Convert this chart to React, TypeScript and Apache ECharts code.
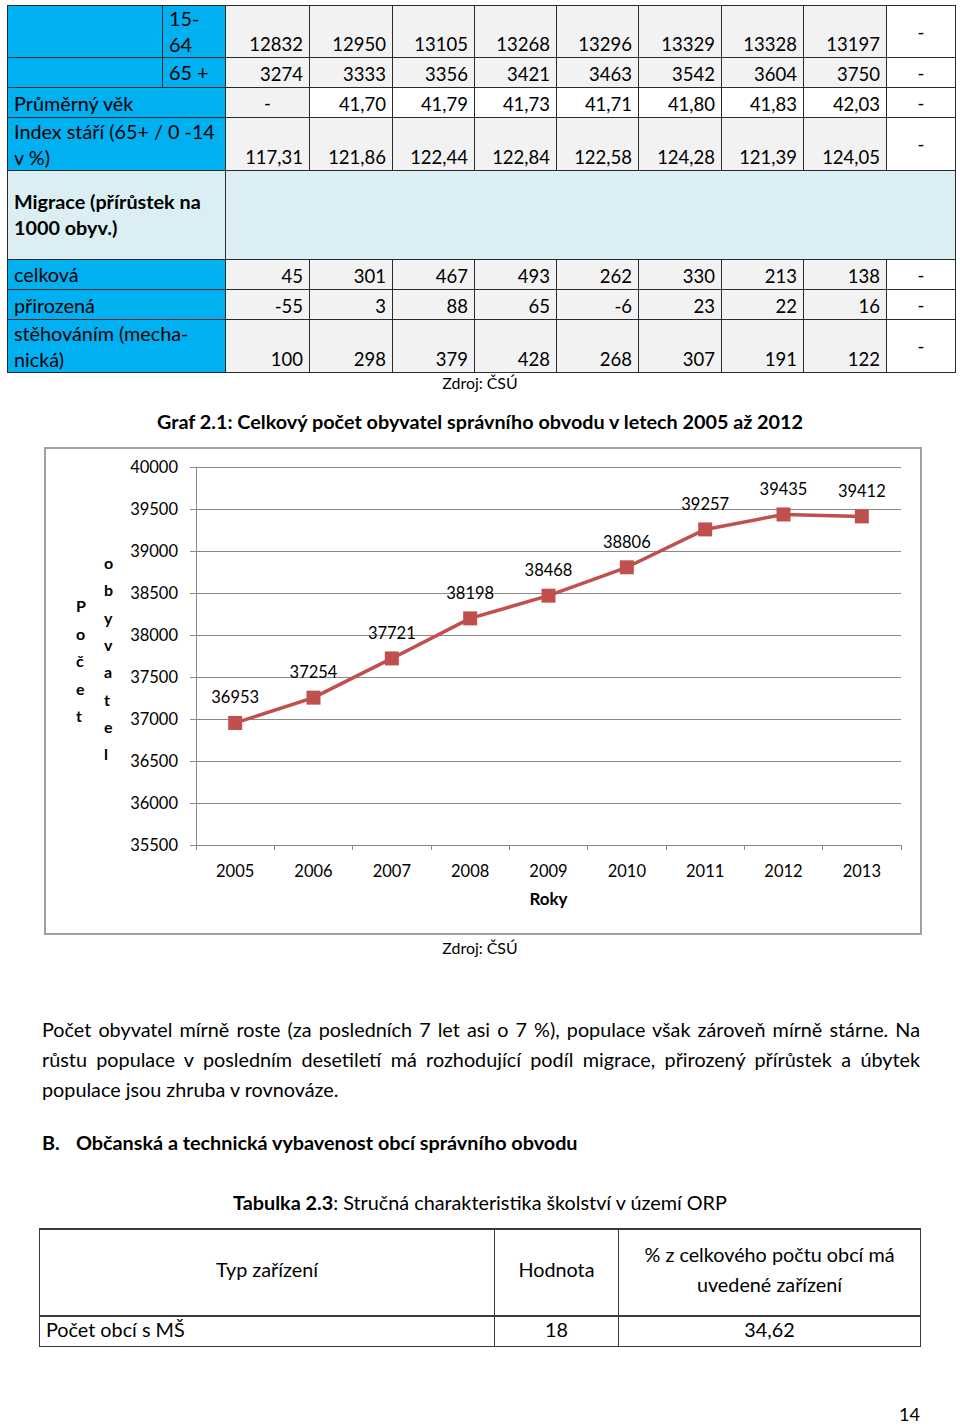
import React, { useEffect, useRef } from "react";
import * as echarts from "echarts";

const FONT = "Lato, 'Noto Sans', 'DejaVu Sans', sans-serif";

// ---- chart data ----
const years = ["2005", "2006", "2007", "2008", "2009", "2010", "2011", "2012", "2013"];
const population = [36953, 37254, 37721, 38198, 38468, 38806, 39257, 39435, 39412];
const chartTitle = "Graf 2.1: Celkový počet obyvatel správního obvodu v letech 2005 až 2012";
const yAxisWord1 = "Počet";
const yAxisWord2 = "obyvatel";
const xAxisName = "Roky";

// ---- table 1 data ----
const row1564 = ["12832", "12950", "13105", "13268", "13296", "13329", "13328", "13197"];
const row65 = ["3274", "3333", "3356", "3421", "3463", "3542", "3604", "3750"];
const prumernyVek = ["-", "41,70", "41,79", "41,73", "41,71", "41,80", "41,83", "42,03"];
const indexStari = ["117,31", "121,86", "122,44", "122,84", "122,58", "124,28", "121,39", "124,05"];
const celkova = ["45", "301", "467", "493", "262", "330", "213", "138"];
const prirozena = ["-55", "3", "88", "65", "-6", "23", "22", "16"];
const stehovanim = ["100", "298", "379", "428", "268", "307", "191", "122"];

// ---- table 2 data ----
const t2Header = ["Typ zařízení", "Hodnota", "% z celkového počtu obcí má uvedené zařízení"];
const t2Row = ["Počet obcí s MŠ", "18", "34,62"];

const paragraphLines = [
  "Počet obyvatel mírně roste (za posledních 7 let asi o 7 %), populace však zároveň mírně stárne. Na",
  "růstu populace v posledním desetiletí má rozhodující podíl migrace, přirozený přírůstek a úbytek",
  "populace jsou zhruba v rovnováze.",
];

const BLUE = "#00B0F0";
const LIGHTBLUE = "#DAEEF3";
const GREY = "#F2F2F2";
const WHITE = "#FFFFFF";

const TXT = 19.8;
const NUM = 18.5;

// layout
const colX = [225, 309, 392, 474, 556, 638, 721, 803, 886, 955];
const rowY = [5, 57, 87, 117, 170, 259, 289, 319, 372];

type CellProps = {
  x1: number; x2: number; y1: number; y2: number;
  bg: string; align?: "left" | "right" | "center";
  valign?: "top" | "middle" | "bottom"; bold?: boolean;
  children?: React.ReactNode; fontSize?: number; lineHeight?: number;
  border?: string; borderTop?: string; padL?: number; padR?: number; padB?: number;
};

function Cell(p: CellProps) {
  const jc = p.valign === "bottom" ? "flex-end" : p.valign === "top" ? "flex-start" : "center";
  return (
    <div
      style={{
        position: "absolute",
        left: p.x1,
        top: p.y1,
        width: p.x2 - p.x1 + 1,
        height: p.y2 - p.y1 + 1,
        boxSizing: "border-box",
        border: p.border ?? "1px solid #2a2a2a",
        borderTop: p.borderTop ?? p.border ?? "1px solid #2a2a2a",
        background: p.bg,
        display: "flex",
        flexDirection: "column",
        justifyContent: jc,
        textAlign: p.align ?? "right",
        paddingLeft: p.padL ?? 6,
        paddingRight: p.padR ?? 6,
        paddingBottom: p.padB ?? 0,
        fontSize: p.fontSize ?? NUM,
        lineHeight: (p.lineHeight ?? 26) + "px",
        fontWeight: p.bold ? 700 : 400,
        color: "#000",
        whiteSpace: "pre-line",
      }}
    >
      {p.children}
    </div>
  );
}

function DataRow({ values, r, bgFirst, bg }: { values: string[]; r: number; bgFirst?: string; bg: string }) {
  return (
    <>
      {values.map((v, i) => (
        <Cell
          key={i}
          x1={colX[i]}
          x2={colX[i + 1]}
          y1={rowY[r]}
          y2={rowY[r + 1]}
          bg={i === 0 && bgFirst ? bgFirst : bg}
          valign={v === "-" ? "middle" : "bottom"}
          align={v === "-" ? "center" : "right"}
        >
          {v}
        </Cell>
      ))}
      <Cell x1={colX[8]} x2={colX[9]} y1={rowY[r]} y2={rowY[r + 1]} bg={WHITE} valign="middle" align="center">
        -
      </Cell>
    </>
  );
}

function Table1() {
  return (
    <>
      <Cell x1={7} x2={162} y1={rowY[0]} y2={rowY[1]} bg={BLUE} />
      <Cell x1={162} x2={225} y1={rowY[0]} y2={rowY[1]} bg={BLUE} align="left" valign="middle" fontSize={TXT} padB={2}>{"15-\n64"}</Cell>
      <DataRow values={row1564} r={0} bg={GREY} />
      <Cell x1={7} x2={162} y1={rowY[1]} y2={rowY[2]} bg={BLUE} />
      <Cell x1={162} x2={225} y1={rowY[1]} y2={rowY[2]} bg={BLUE} align="left" valign="middle" fontSize={TXT} padB={2}>65 +</Cell>
      <DataRow values={row65} r={1} bg={GREY} />
      <Cell x1={7} x2={225} y1={rowY[2]} y2={rowY[3]} bg={BLUE} align="left" valign="middle" fontSize={TXT}>Průměrný věk</Cell>
      <DataRow values={prumernyVek} r={2} bgFirst={GREY} bg={WHITE} />
      <Cell x1={7} x2={225} y1={rowY[3]} y2={rowY[4]} bg={BLUE} align="left" valign="middle" fontSize={TXT}>{"Index stáří (65+ / 0 -14\nv %)"}</Cell>
      <DataRow values={indexStari} r={3} bg={GREY} />
      <Cell x1={7} x2={225} y1={rowY[4]} y2={rowY[5]} bg={LIGHTBLUE} align="left" valign="middle" bold fontSize={TXT} padB={2}>{"Migrace (přírůstek na\n1000 obyv.)"}</Cell>
      <Cell x1={225} x2={955} y1={rowY[4]} y2={rowY[5]} bg={LIGHTBLUE} />
      <Cell x1={7} x2={225} y1={rowY[5]} y2={rowY[6]} bg={BLUE} align="left" valign="middle" fontSize={TXT} padB={2}>celková</Cell>
      <DataRow values={celkova} r={5} bg={GREY} />
      <Cell x1={7} x2={225} y1={rowY[6]} y2={rowY[7]} bg={BLUE} align="left" valign="middle" fontSize={TXT}>přirozená</Cell>
      <DataRow values={prirozena} r={6} bg={GREY} />
      <Cell x1={7} x2={225} y1={rowY[7]} y2={rowY[8]} bg={BLUE} align="left" valign="middle" fontSize={TXT} padB={1}>{"stěhováním (mecha-\nnická)"}</Cell>
      <DataRow values={stehovanim} r={7} bg={GREY} />
    </>
  );
}

function Table2() {
  const xs = [39, 494, 618, 920];
  const ys = [1228, 1315, 1346];
  const b = "1px solid #3a3a3a";
  return (
    <>
      {t2Header.map((t, i) => (
        <Cell key={"h" + i} x1={xs[i]} x2={xs[i + 1]} y1={ys[0]} y2={ys[1]} bg={WHITE} align="center" valign="middle"
          lineHeight={30} border={b} borderTop="2px solid #3a3a3a" padL={16} padR={16} padB={7} fontSize={TXT}>
          {t}
        </Cell>
      ))}
      {t2Row.map((t, i) => (
        <Cell key={"r" + i} x1={xs[i]} x2={xs[i + 1]} y1={ys[1]} y2={ys[2]} bg={WHITE}
          align={i === 0 ? "left" : "center"} valign="middle" border={b} borderTop="2px solid #3a3a3a" padB={5} fontSize={TXT}>
          {t}
        </Cell>
      ))}
    </>
  );
}

function TextAt({ x, y, w, align, children, size, bold, h = 30 }: { x: number; y: number; w: number; align: "left" | "center" | "right"; children: React.ReactNode; size: number; bold?: boolean; h?: number }) {
  return (
    <div style={{ position: "absolute", left: x, top: y - h / 2, width: w, height: h, lineHeight: h + "px", textAlign: align, fontSize: size, fontWeight: bold ? 700 : 400, color: "#000", whiteSpace: "nowrap" }}>
      {children}
    </div>
  );
}

function Chart() {
  const ref = useRef<HTMLDivElement>(null);
  useEffect(() => {
    if (!ref.current) return;
    const chart = echarts.init(ref.current, undefined, { renderer: "svg" });
    const axisColor = "#8a8a8a";
    chart.setOption({
      animation: false,
      textStyle: { fontFamily: FONT },
      grid: { left: 152, right: 21, top: 20, bottom: 90 },
      xAxis: {
        type: "category",
        data: years,
        boundaryGap: true,
        axisLine: { lineStyle: { color: axisColor, width: 1 } },
        axisTick: { show: true, length: 5, interval: 0, lineStyle: { color: axisColor } },
        axisLabel: { color: "#000", fontSize: 16.5, margin: 17, interval: 0, fontFamily: FONT },
        name: xAxisName,
        nameLocation: "middle",
        nameGap: 45,
        nameTextStyle: { fontWeight: "bold", fontSize: 17, color: "#000", fontFamily: FONT },
      },
      yAxis: {
        type: "value",
        min: 35500,
        max: 40000,
        interval: 500,
        axisLine: { show: true, lineStyle: { color: axisColor } },
        axisTick: { show: true, length: 6, lineStyle: { color: axisColor } },
        axisLabel: { color: "#000", fontSize: 16.5, margin: 18, fontFamily: FONT, formatter: (v: number) => String(v) },
        splitLine: { show: true, lineStyle: { color: axisColor, width: 1 } },
      },
      series: [
        {
          type: "line",
          data: population,
          symbol: "rect",
          symbolSize: 14,
          lineStyle: { color: "#C0504D", width: 3.5 },
          itemStyle: { color: "#C0504D" },
          label: { show: true, position: "top", distance: 10, color: "#000", fontSize: 16.5, fontFamily: FONT },
        },
      ],
      graphic: [
        {
          type: "text",
          left: 32,
          top: 145,
          style: {
            text: yAxisWord1.split("").join("\n"),
            fontSize: 16,
            fontWeight: "bold",
            lineHeight: 27.5,
            fill: "#000",
            align: "center",
            fontFamily: FONT,
          },
        },
        {
          type: "text",
          left: 60,
          top: 102,
          style: {
            text: yAxisWord2.split("").join("\n"),
            fontSize: 16,
            fontWeight: "bold",
            lineHeight: 27.3,
            fill: "#000",
            align: "center",
            fontFamily: FONT,
          },
        },
      ],
    });
    return () => chart.dispose();
  }, []);
  return (
    <div style={{ position: "absolute", left: 44, top: 447, width: 878, height: 488, boxSizing: "border-box", border: "2px solid #a0a0a0" }}>
      <div ref={ref} style={{ position: "absolute", left: -2, top: -2, width: 878, height: 488 }} />
    </div>
  );
}

export default function App() {
  return (
    <div style={{ position: "absolute", left: 0, top: 0, width: 960, height: 1425, background: "#fff", fontFamily: FONT, overflow: "hidden" }}>
      <Table1 />
      <TextAt x={0} y={383} w={960} align="center" size={15.9}>Zdroj: ČSÚ</TextAt>
      <TextAt x={0} y={421} w={960} align="center" size={19.8} bold>{chartTitle}</TextAt>
      <Chart />
      <TextAt x={0} y={948} w={960} align="center" size={15.9}>Zdroj: ČSÚ</TextAt>
      {paragraphLines.map((l, i) => (
        <div key={i} style={{ position: "absolute", left: 42, top: 1029 + i * 30 - 15, width: 878, height: 30, lineHeight: "30px", fontSize: TXT, textAlign: "justify", textAlignLast: i < paragraphLines.length - 1 ? "justify" : "left", whiteSpace: "nowrap", color: "#000" } as React.CSSProperties}>
          {l}
        </div>
      ))}
      <TextAt x={42} y={1142} w={40} align="left" size={TXT} bold>B.</TextAt>
      <TextAt x={76} y={1142} w={820} align="left" size={TXT} bold>Občanská a technická vybavenost obcí správního obvodu</TextAt>
      <TextAt x={0} y={1202} w={960} align="center" size={TXT}>
        <b>Tabulka 2.3</b>: Stručná charakteristika školství v území ORP
      </TextAt>
      <Table2 />
      <TextAt x={880} y={1414} w={40} align="right" size={18} h={18}>14</TextAt>
    </div>
  );
}
